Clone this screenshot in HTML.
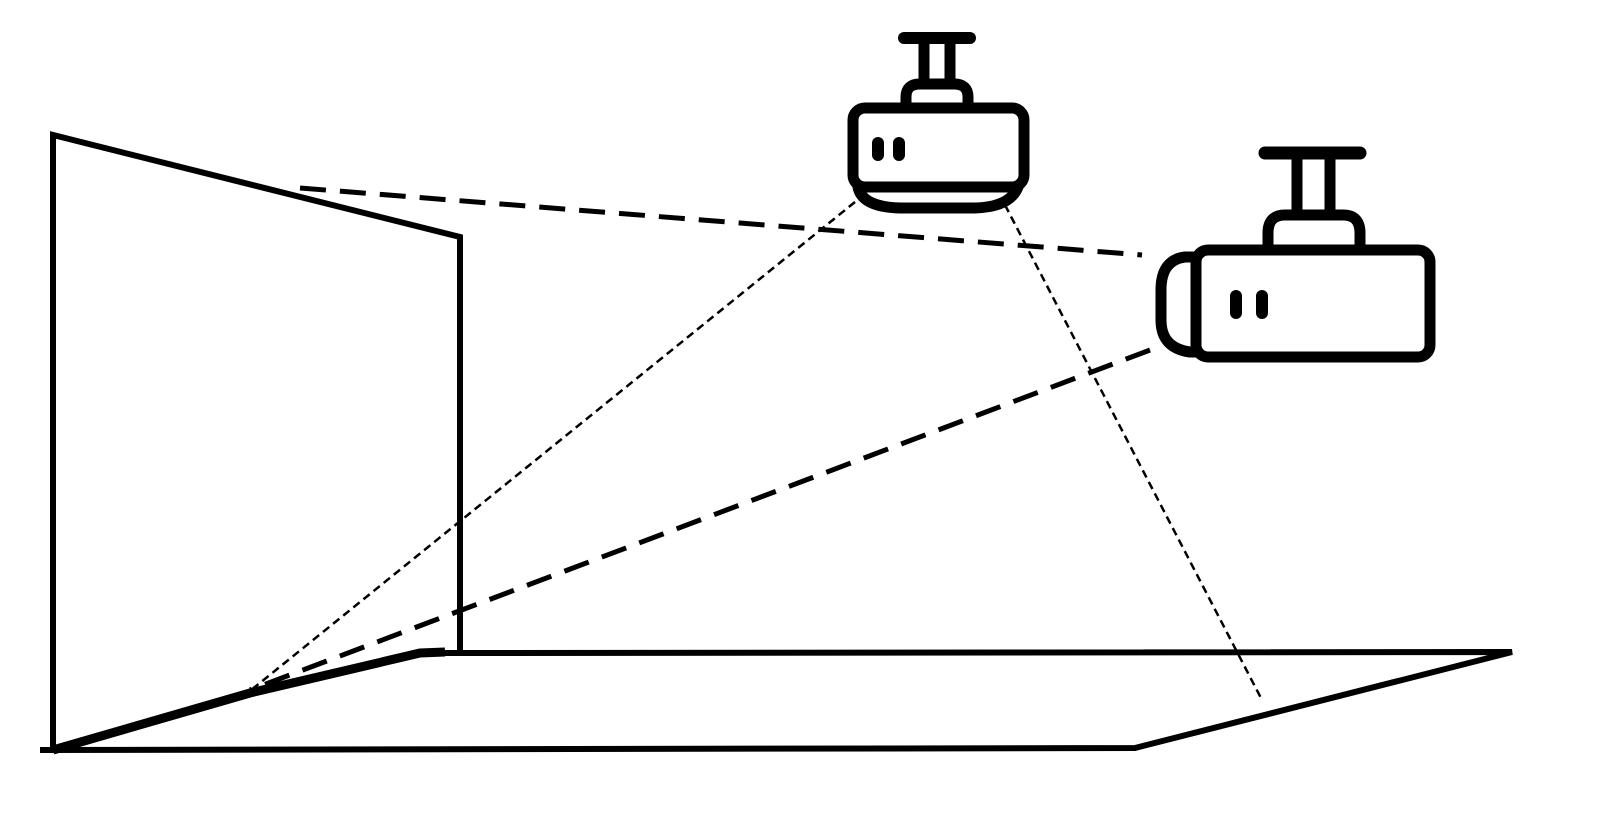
<!DOCTYPE html>
<html><head><style>html,body{margin:0;padding:0;background:#fff}</style></head>
<body>
<svg width="1600" height="825" viewBox="0 0 1600 825" xmlns="http://www.w3.org/2000/svg">
<g fill="none" stroke="#000" stroke-linecap="butt">
<polyline points="53,750 53,135 460,237 460,653" stroke-width="6"/>
<polyline points="40,750 1135,748 1512,652 460,653 420,653" stroke-width="6"/>
<path d="M53,750 L250,693 L420,653 L445,652" stroke-width="9"/>
<line x1="300" y1="188" x2="1142" y2="255" stroke-width="5" stroke-dasharray="26,14"/>
<line x1="1150" y1="350" x2="250" y2="690" stroke-width="5" stroke-dasharray="26,14"/>
<line x1="855" y1="202" x2="245" y2="695" stroke-width="2.5" stroke-dasharray="8,5"/>
<line x1="1005" y1="205" x2="1262" y2="700" stroke-width="2.5" stroke-dasharray="8,5"/>
</g>
<g fill="none" stroke="#000" stroke-width="11" stroke-linecap="round" stroke-linejoin="round">
<line x1="904" y1="38" x2="970" y2="38" stroke-width="12"/>
<line x1="924" y1="40" x2="924" y2="82"/>
<line x1="950" y1="40" x2="950" y2="82"/>
<path d="M906,107 V97 Q906,84 920,84 H954 Q968,84 968,97 V107"/>
<rect x="853" y="108" width="171" height="79" rx="12"/>
<path d="M858,187 Q862,207 900,208 H975 Q1010,207 1018,187"/>
<line x1="878" y1="143" x2="878" y2="155" stroke-width="12"/>
<line x1="899" y1="143" x2="899" y2="155" stroke-width="12"/>
<line x1="1265" y1="153" x2="1360" y2="153" stroke-width="13"/>
<line x1="1297" y1="155" x2="1297" y2="215"/>
<line x1="1330" y1="155" x2="1330" y2="215"/>
<path d="M1268,250 V233 Q1268,215 1285,215 H1343 Q1360,215 1360,233 V250"/>
<rect x="1196" y="250" width="234" height="107" rx="12"/>
<path d="M1196,257 H1185 Q1161,260 1161,290 V320 Q1161,348 1190,352 H1196"/>
<line x1="1236" y1="296" x2="1236" y2="313" stroke-width="12"/>
<line x1="1262" y1="296" x2="1262" y2="313" stroke-width="12"/>
</g>
</svg>
</body></html>
